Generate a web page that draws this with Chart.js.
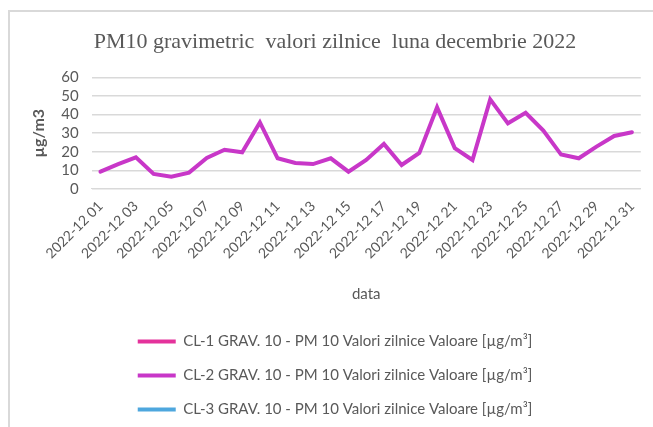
<!DOCTYPE html>
<html lang="ro">
<head>
<meta charset="UTF-8">
<title>PM10 gravimetric decembrie 2022</title>
<script src="https://cdn.jsdelivr.net/npm/chart.js"></script>
<style>
  html, body { margin: 0; padding: 0; background: #fff; }
  .wrap { position: relative; width: 653px; height: 427px; overflow: hidden; }
  .frame { position: absolute; left: 8px; top: 10px; width: 700px; height: 500px;
           border-left: 2px solid #d9d9d9; border-top: 2px solid #d9d9d9; }
  canvas { position: absolute; left: 0; top: 0; }
</style>
</head>
<body>
<div class="wrap">
  <div class="frame"></div>
  <canvas id="grafic" width="653" height="427"></canvas>
</div>
<script>
// zilele lunii (categorii)
const zile = [
  '2022-12 01', '2022-12 02', '2022-12 03', '2022-12 04', '2022-12 05', '2022-12 06',
  '2022-12 07', '2022-12 08', '2022-12 09', '2022-12 10', '2022-12 11', '2022-12 12',
  '2022-12 13', '2022-12 14', '2022-12 15', '2022-12 16', '2022-12 17', '2022-12 18',
  '2022-12 19', '2022-12 20', '2022-12 21', '2022-12 22', '2022-12 23', '2022-12 24',
  '2022-12 25', '2022-12 26', '2022-12 27', '2022-12 28', '2022-12 29', '2022-12 30',
  '2022-12 31'
];

// valori zilnice PM10 [µg/m3] - doar CL-2 are date
const valoriCL1 = [];
const valoriCL2 = [
  9.3, 13.4, 17.0, 8.1, 6.6, 8.8, 16.7, 21.1, 19.7, 35.8,
  16.5, 14.0, 13.4, 16.5, 9.3, 15.6, 24.2, 12.9, 19.4, 43.9,
  22.0, 15.6, 48.2, 35.3, 41.0, 31.4, 18.5, 16.5, 22.8, 28.5,
  30.5
];
const valoriCL3 = [];

const ticksY = [0, 10, 20, 30, 40, 50, 60];

const gri = '#595959';
const fontSans = 'Lato, "Noto Sans", sans-serif';

function serie(nume, valori, culoare) {
  return {
    label: nume,
    data: valori,
    borderColor: culoare,
    backgroundColor: culoare,
    borderWidth: 4,
    pointRadius: 0,
    pointBorderWidth: 4,
    pointBorderColor: culoare,
    borderCapStyle: 'round',
    tension: 0,
    fill: false
  };
}

const dados = {
  labels: zile,
  datasets: [
    serie('CL-1 GRAV. 10 - PM 10 Valori zilnice Valoare [µg/m³]', valoriCL1, '#e4329b'),
    serie('CL-2 GRAV. 10 - PM 10 Valori zilnice Valoare [µg/m³]', valoriCL2, '#c837c8'),
    serie('CL-3 GRAV. 10 - PM 10 Valori zilnice Valoare [µg/m³]', valoriCL3, '#4ea7de')
  ]
};

const config = {
  type: 'line',
  data: dados,
  options: {
    responsive: false,
    animation: false,
    layout: { padding: { top: 29, left: 29, right: 12, bottom: 0 } },
    plugins: {
      title: {
        display: true,
        text: 'PM10 gravimetric  valori zilnice  luna decembrie 2022',
        color: gri,
        font: { family: '"Liberation Serif", "Times New Roman", serif', size: 22, weight: 'normal' },
        padding: { top: 0, bottom: 22 }
      },
      legend: {
        position: 'bottom',
        labels: {
          color: gri,
          font: { family: fontSans, size: 15 },
          usePointStyle: true,
          pointStyle: 'line',
          pointStyleWidth: 38,
          padding: 19
        }
      },
      tooltip: { enabled: false }
    },
    scales: {
      x: {
        offset: true,
        grid: { display: false, drawTicks: false },
        border: { display: true, color: '#d9d9d9', width: 1 },
        ticks: {
          autoSkip: false,
          minRotation: 45,
          maxRotation: 45,
          padding: 9,
          color: gri,
          font: { family: fontSans, size: 14 },
          callback: function (val, i) { return i % 2 === 0 ? zile[i] : ''; }
        },
        title: {
          display: true,
          text: 'data',
          color: gri,
          font: { family: fontSans, size: 15 },
          padding: { top: 14, bottom: 12 }
        }
      },
      y: {
        min: ticksY[0],
        max: ticksY[ticksY.length - 1],
        afterBuildTicks: function (axis) { axis.ticks = ticksY.map(v => ({ value: v })); },
        grid: { color: '#d9d9d9', lineWidth: 1.5, drawTicks: false },
        border: { display: false },
        ticks: {
          autoSkip: false,
          padding: 13,
          color: gri,
          font: { family: fontSans, size: 15 }
        },
        title: {
          display: true,
          text: 'µg/m3',
          color: gri,
          font: { family: fontSans, size: 16, weight: 'bold' },
          padding: { top: 0, bottom: 0 }
        }
      }
    }
  }
};

let grafic = new Chart(document.getElementById('grafic'), config);
</script>
</body>
</html>
